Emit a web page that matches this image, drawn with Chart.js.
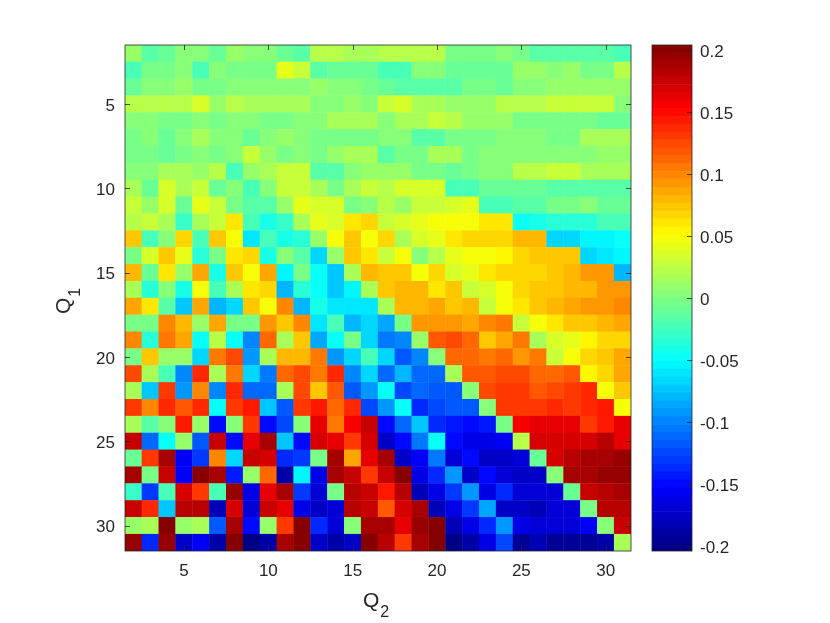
<!DOCTYPE html>
<html>
<head>
<meta charset="utf-8">
<title>Q1 Q2 heatmap</title>
<script src="https://cdn.jsdelivr.net/npm/chart.js@4"></script>
<style>
    html, body { margin: 0; padding: 0; background: #fff; }
    canvas { position: absolute; top: 0; }
    #heatChart { left: 0; }
    #barChart { left: 640px; }
</style>
</head>
<body>
<canvas id="heatChart" width="640" height="623"></canvas>
<canvas id="barChart" width="190" height="623"></canvas>
<script>
// Data
const q2Values = [2,3,4,5,6,7,8,9,10,11,12,13,14,15,16,17,18,19,20,21,22,23,24,25,26,27,28,29,30,31];
const q1Values = [2,3,4,5,6,7,8,9,10,11,12,13,14,15,16,17,18,19,20,21,22,23,24,25,26,27,28,29,30,31];
const q2Ticks = [5,10,15,20,25,30];
const q1Ticks = [5,10,15,20,25,30];
const barTicks = [-0.2,-0.15,-0.1,-0.05,0,0.05,0.1,0.15,0.2];
const barTickLabels = ['-0.2','-0.15','-0.1','-0.05','0','0.05','0.1','0.15','0.2'];

// one row per Q1, one column per Q2
const cellRows = [
[.008,-.015,-.008,0,0,-.008,.012,0,0,-.01,-.018,.022,.022,.018,.014,.022,.022,.022,.022,-.006,-.006,-.006,0,-.006,-.013,-.013,-.013,-.013,-.013,-.02],
[-.025,-.003,-.003,.004,-.025,.005,-.005,-.004,-.004,.042,.028,-.018,-.012,-.008,-.008,-.024,-.024,.003,.006,-.007,-.007,-.007,-.007,.008,.008,.002,.008,-.006,-.006,.022],
[-.01,.004,.004,.01,-.006,-.006,0,0,.006,.002,.002,.009,.003,.003,-.005,-.008,-.014,-.014,-.014,-.014,-.004,-.004,-.008,.004,.004,.012,.012,.012,.012,.012],
[.022,.022,.022,.022,.033,.008,.022,.018,.018,.014,.014,.006,.006,.008,.004,.03,.037,.018,.018,.012,.012,.012,.02,.02,.02,.028,.028,.028,.028,.003],
[.002,.006,-.002,-.006,.001,-.006,.006,.001,-.006,-.006,.001,.006,.014,.014,.014,.006,.016,.016,.03,.022,.012,.012,.012,-.004,-.004,-.004,-.004,-.004,-.01,-.01],
[-.003,.003,-.012,.002,.018,.003,.003,-.01,.004,.01,.003,-.005,-.005,-.001,-.001,.003,.003,-.014,-.014,-.005,-.005,-.005,.006,.006,.006,-.001,-.001,.018,.018,.018],
[-.006,-.006,-.012,-.005,.003,-.006,.005,.028,.012,-.004,.003,-.004,.012,.018,.018,-.014,-.002,-.002,.016,.016,-.002,.006,.006,.006,.006,.006,.006,.006,.012,.012],
[.004,.004,.018,.018,.012,.02,-.022,.012,.018,.028,.028,-.014,-.014,.002,.01,.012,.012,-.002,-.002,-.008,-.002,.004,.004,.02,.02,.03,.03,.018,.018,.018],
[.016,-.008,.036,.016,.028,-.012,.006,-.022,.003,.026,.026,.018,-.001,.016,.028,.025,.034,.034,.038,-.02,-.02,-.008,-.008,-.008,-.012,-.014,-.014,-.014,-.015,-.016],
[.03,.007,.035,-.012,.042,.028,-.004,-.014,-.014,.008,.042,.034,.034,-.004,.002,.02,.008,.028,.028,.036,.044,-.02,-.02,-.014,-.014,-.006,-.006,.002,-.008,-.008],
[.02,.03,.014,-.026,.014,.028,.06,-.02,-.042,-.028,.014,.042,.034,.062,.064,.03,.036,.04,.045,.045,.05,.06,.06,-.048,-.042,-.038,-.034,-.032,-.024,-.024],
[.072,-.02,.006,.07,-.024,.072,.05,-.058,-.02,-.04,-.036,.012,.05,.072,.05,.065,.016,.032,.044,.06,.066,.07,.07,.078,.078,-.064,-.064,-.056,-.056,-.05],
[-.006,.034,.072,.04,-.032,-.004,.06,.064,-.044,.004,-.016,-.066,.012,.072,.062,.03,.05,.004,.022,.043,.05,.05,.056,.068,.074,.076,.076,-.064,-.058,-.056],
[.078,-.008,.06,.012,.084,-.044,.072,.05,.088,-.052,-.006,-.05,-.072,.014,.08,.074,.074,.05,.07,.032,.042,.06,.07,.066,.07,.076,.082,.09,.09,-.08],
[.014,-.032,.006,-.044,.05,-.024,.018,.062,.07,-.08,-.038,-.05,-.072,-.056,.014,.072,.078,.082,.06,.076,.028,.034,.05,.068,.072,.076,.078,.082,.09,.09],
[.088,.06,-.018,-.072,.084,-.08,-.066,.076,.05,.096,-.078,-.044,-.06,-.06,-.058,.014,.082,.078,.084,.072,.08,.03,.05,.06,.072,.08,.086,.09,.09,.098],
[-.001,-.001,.096,.08,.012,.085,-.004,-.004,.09,.076,.096,-.062,-.024,-.078,-.07,-.086,-.002,.09,.09,.09,.084,.098,.102,.03,.05,.058,.074,.072,.078,.086],
[.098,-.032,.102,.086,-.05,.024,-.05,-.1,.114,.016,.076,-.084,-.05,-.002,-.064,-.108,-.1,.012,.115,.126,.11,.074,.088,.102,.016,.032,.042,.056,.064,.064],
[-.002,.072,.012,.012,-.064,.104,.122,-.09,.016,.08,.08,.108,-.09,-.064,-.02,-.064,-.115,-.1,.002,.11,.11,.104,.11,.09,.104,.03,.05,.07,.076,.088],
[.122,.018,-.022,-.098,.138,.018,.104,-.07,-.105,.114,.122,.102,.136,-.098,-.064,-.112,-.08,-.11,-.11,.016,.116,.116,.124,.124,.112,.114,.118,.056,.07,.084],
[.018,-.076,.132,-.09,.098,-.1,.14,-.112,-.11,.016,.124,.076,.12,-.118,-.09,-.05,-.122,-.11,-.118,-.115,.004,.122,.132,.132,.118,.122,.13,.136,.05,.072],
[.132,.1,.14,.116,.134,-.05,.128,.142,-.072,-.12,.13,.146,.11,.14,-.122,-.09,-.05,-.135,-.125,-.118,-.115,.004,.132,.132,.132,.14,.13,.138,.144,.05],
[.014,-.016,.004,.146,.012,-.152,.002,.128,-.15,-.122,.002,.164,.102,.153,.178,-.152,-.112,-.074,-.136,-.145,-.15,-.142,-.006,.153,.162,.164,.164,.13,.146,.162],
[.178,-.11,-.05,.012,-.12,.176,-.15,.165,.186,-.074,-.15,.172,.165,.132,.172,-.175,-.15,-.105,-.05,-.15,-.16,-.16,-.155,.02,.17,.17,.17,.172,.18,.165],
[-.012,.128,.19,-.155,-.13,.1,-.07,.178,.17,-.14,-.13,-.006,.185,.088,.165,.19,-.178,-.153,-.105,-.168,-.15,-.178,-.178,-.172,-.008,.172,.18,.185,.186,.192],
[.186,-.004,.178,-.153,.204,.185,-.145,.012,.114,-.19,-.056,-.165,.186,.176,.13,.178,.204,-.165,-.14,-.09,-.178,-.152,-.17,-.175,-.175,.002,.186,.186,.192,.196],
[-.028,-.13,-.02,.172,.132,-.02,.194,-.165,.164,.186,-.128,-.17,-.002,.18,.176,.146,.182,-.18,-.16,-.13,-.09,-.16,-.14,-.17,-.172,-.172,-.012,.178,.182,.188],
[.178,.135,-.075,.18,.18,-.18,.172,-.172,.178,.165,-.165,-.176,-.168,.182,.178,.118,.172,.19,-.18,-.16,-.13,-.088,-.178,-.178,-.18,-.172,-.17,-.004,.18,.18],
[.008,.016,.204,.008,.014,-.12,.186,-.148,.008,.13,.206,-.138,-.172,.005,.186,.186,.16,.192,.2,-.18,-.16,-.135,-.09,-.165,-.17,-.17,-.17,-.155,.004,.175],
[.192,-.14,.192,-.176,-.155,-.185,.2,-.2,-.19,.186,.2,-.178,-.185,-.178,.206,.18,.13,.186,.204,-.205,-.19,-.165,-.125,-.195,-.18,-.195,-.195,-.195,-.185,.014]
];

const colorMin = -0.204;
const colorMax = 0.204;
const levels = 64;
const inkColor = '#262626';
const fontFamily = '"Liberation Sans", Arial, sans-serif';

// MATLAB style jet colormap, quantised
function jetLevel(k) {
    const t = (k + 0.5) / levels;
    const c = v => Math.round(255 * Math.max(0, Math.min(1, v)));
    const r = c(Math.min(4 * t - 1.5, -4 * t + 4.5));
    const g = c(Math.min(4 * t - 0.5, -4 * t + 3.5));
    const b = c(Math.min(4 * t + 0.5, -4 * t + 2.5));
    return 'rgb(' + r + ',' + g + ',' + b + ')';
}

function jetColor(v) {
    const k = Math.floor((v - colorMin) / (colorMax - colorMin) * levels);
    return jetLevel(Math.max(0, Math.min(levels - 1, k)));
}

// rect half side is radius * sqrt(1/2), little extra so no seams show
function cellRadius(ctx) {
    const area = ctx.chart.chartArea;
    return area ? area.width / q2Values.length * Math.SQRT1_2 + 0.3 : 12;
}

// Box and inward ticks, matlab axes have these on all four sides
const boxPlugin = {
    id: 'boxPlugin',
    afterDraw(chart) {
        const ctx = chart.ctx;
        const area = chart.chartArea;
        const isHeat = chart.scales.x.options.display;
        ctx.save();
        ctx.strokeStyle = inkColor;
        ctx.lineWidth = 1;
        ctx.globalAlpha = 0.8;
        ctx.strokeRect(area.left, area.top, area.width, area.height);
        const len = 5;
        ctx.beginPath();
        if (isHeat) {
            chart.scales.x.ticks.forEach(t => {
                const px = Math.round(chart.scales.x.getPixelForValue(t.value)) + 0.5;
                ctx.moveTo(px, area.top);
                ctx.lineTo(px, area.top + len);
                ctx.moveTo(px, area.bottom);
                ctx.lineTo(px, area.bottom - len);
            });
        }
        chart.scales.y.ticks.forEach(t => {
            const py = Math.round(chart.scales.y.getPixelForValue(t.value)) + 0.5;
            if (isHeat) {
                ctx.moveTo(area.left, py);
                ctx.lineTo(area.left + len, py);
            }
            ctx.moveTo(area.right, py);
            ctx.lineTo(area.right - len, py);
        });
        ctx.stroke();
        ctx.restore();
    }
};

// Axis titles need a real subscript, which the scale title can't do
function drawSubTitle(ctx, x, y, angle, main, sub) {
    ctx.save();
    ctx.translate(x, y);
    ctx.rotate(angle);
    ctx.fillStyle = inkColor;
    ctx.textBaseline = 'alphabetic';
    ctx.textAlign = 'left';
    ctx.font = '21px ' + fontFamily;
    ctx.fillText(main, 0, 0);
    const w = ctx.measureText(main).width;
    ctx.font = '16px ' + fontFamily;
    ctx.fillText(sub, w + 1, 10);
    ctx.restore();
}

const titlePlugin = {
    id: 'titlePlugin',
    afterDraw(chart) {
        const area = chart.chartArea;
        drawSubTitle(chart.ctx, (area.left + area.right) / 2 - 15, area.bottom + 56, 0, 'Q', '2');
        drawSubTitle(chart.ctx, area.left - 55, (area.top + area.bottom) / 2 + 16, -Math.PI / 2, 'Q', '1');
    }
};

function initHeatmap() {
    const cells = [];
    cellRows.forEach((row, i) => {
        row.forEach((v, j) => {
            cells.push({ x: q2Values[j], y: q1Values[i], v: v });
        });
    });

    new Chart(document.getElementById('heatChart').getContext('2d'), {
        type: 'scatter',
        data: {
            datasets: [{
                data: cells,
                pointStyle: 'rect',
                pointRadius: cellRadius,
                pointHoverRadius: cellRadius,
                pointBorderWidth: 0,
                pointBackgroundColor: ctx => ctx.raw ? jetColor(ctx.raw.v) : '#80ff80'
            }]
        },
        options: {
            responsive: false,
            animation: false,
            // autoPadding would shrink the plot to make room for the cell radius
            layout: { autoPadding: false, padding: { top: 45, right: 9 } },
            plugins: { legend: { display: false }, tooltip: { enabled: false } },
            scales: {
                x: {
                    type: 'linear',
                    min: 1.5,
                    max: 31.5,
                    grid: { display: false },
                    border: { display: false },
                    afterBuildTicks: s => { s.ticks = q2Ticks.map(v => ({ value: v })); },
                    afterFit: s => { s.height = 72; s.paddingLeft = 0; s.paddingRight = 0; },
                    ticks: { color: inkColor, padding: 2, maxRotation: 0, font: { family: fontFamily, size: 17 } }
                },
                y: {
                    type: 'linear',
                    reverse: true,
                    min: 1.5,
                    max: 31.5,
                    grid: { display: false },
                    border: { display: false },
                    afterBuildTicks: s => { s.ticks = q1Ticks.map(v => ({ value: v })); },
                    afterFit: s => { s.width = 125; },
                    ticks: { color: inkColor, padding: 2, labelOffset: 2, font: { family: fontFamily, size: 17 } }
                }
            }
        },
        plugins: [boxPlugin, titlePlugin]
    });
}

function initColorbar() {
    const step = (colorMax - colorMin) / levels;
    const bands = [];
    for (let k = 0; k < levels; k++) {
        bands.push({
            data: [[colorMin + k * step, colorMin + (k + 1) * step]],
            backgroundColor: jetLevel(k),
            borderWidth: 0,
            barPercentage: 1,
            categoryPercentage: 1,
            grouped: false
        });
    }

    new Chart(document.getElementById('barChart').getContext('2d'), {
        type: 'bar',
        data: { labels: ['colorbar'], datasets: bands },
        options: {
            responsive: false,
            animation: false,
            layout: { padding: { top: 45, bottom: 72, left: 12 } },
            plugins: { legend: { display: false }, tooltip: { enabled: false } },
            scales: {
                x: { display: false },
                y: {
                    type: 'linear',
                    position: 'right',
                    min: colorMin,
                    max: colorMax,
                    grid: { display: false },
                    border: { display: false },
                    afterBuildTicks: s => { s.ticks = barTicks.map(v => ({ value: v })); },
                    afterFit: s => { s.width = 138; },
                    ticks: {
                        color: inkColor,
                        padding: 0,
                        labelOffset: 2,
                        font: { family: fontFamily, size: 17 },
                        callback: (value, i) => barTickLabels[i]
                    }
                }
            }
        },
        plugins: [boxPlugin]
    });
}

document.addEventListener('DOMContentLoaded', function() {
    initHeatmap();
    initColorbar();
});
</script>
</body>
</html>
